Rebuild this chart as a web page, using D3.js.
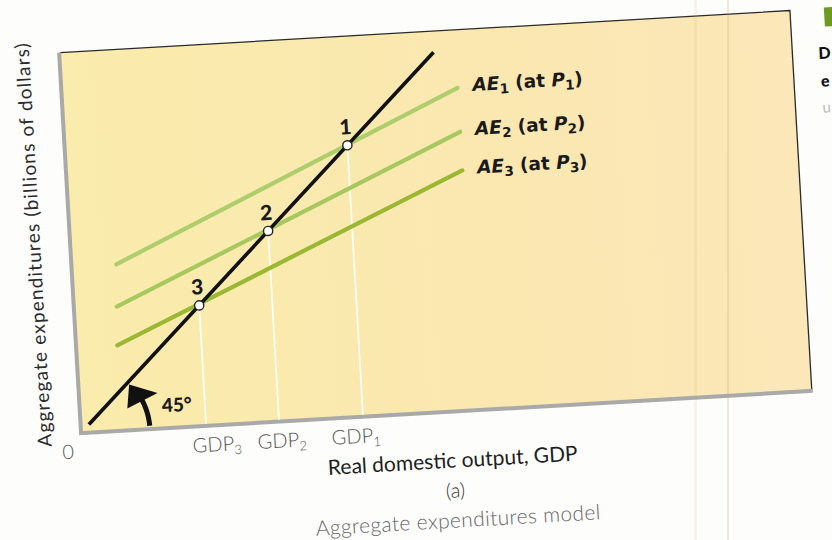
<!DOCTYPE html>
<html>
<head>
<meta charset="utf-8">
<script src="https://cdn.jsdelivr.net/npm/d3@7"></script>
<style>
  html, body { margin: 0; padding: 0; background: #fdfdfc; }
  svg { display: block; }
</style>
</head>
<body>
<svg id="chart" width="832" height="540"></svg>
<script>
// Aggregate expenditures model: 45-degree line and three AE schedules
const aeNames = ["1", "2", "3"];               // AE1, AE2, AE3 (at P1, P2, P3)
const aeStartX = [12, 11.5, 11];
const aeStartY = [47, 35, 24];
const aeEndX = [108, 108, 108];
const aeEndY = [91.5, 79, 68];
const aeColors = ["#aecd6c", "#a6c85e", "#9ab834"];

const pointLabels = ["1", "2", "3"];
const equilibriumGDP = [77, 54, 34];          // equilibrium output at points 1, 2, 3
const gdpTickSubs = ["1", "2", "3"];          // GDP1, GDP2, GDP3

const lineX = [2, 102];                       // 45-degree reference line (AE = GDP)

const svg = d3.select("#chart");
const W = 731, H = 380;
const tickNudge = [-8, 2, 10];                // typeset offsets of the GDP labels

// the printed page sits slightly tilted
const page = svg.append("g").attr("transform", "translate(82,432) rotate(-3.3)");

const x = d3.scaleLinear().domain([0, 200]).range([0, W]);
const y = d3.scaleLinear().domain([0, 108]).range([0, -H]);

// panel background
const defs = svg.append("defs");
const grad = defs.append("linearGradient").attr("id", "panelFill")
  .attr("x1", "0%").attr("x2", "100%").attr("y1", "0%").attr("y2", "0%");
grad.append("stop").attr("offset", "0%").attr("stop-color", "#faecac");
grad.append("stop").attr("offset", "55%").attr("stop-color", "#fae8b0");
grad.append("stop").attr("offset", "100%").attr("stop-color", "#fbe7b8");

page.append("rect")
  .attr("x", x(0)).attr("y", y(108))
  .attr("width", W).attr("height", H)
  .attr("fill", "url(#panelFill)");

// thin dark frame on top and right
page.append("path")
  .attr("d", `M${x(0)},${y(108)} L${x(200)},${y(108)} L${x(200)},${y(0)}`)
  .attr("fill", "none").attr("stroke", "#2a2a2a").attr("stroke-width", 1.3);

// axes drawn as grey rules
page.append("line")
  .attr("x1", x(0) - 1).attr("y1", y(108)).attr("x2", x(0) - 1).attr("y2", y(0) + 2)
  .attr("stroke", "#a9a9a9").attr("stroke-width", 4);
page.append("line")
  .attr("x1", x(0) - 3).attr("y1", y(0) + 1).attr("x2", x(200) + 1).attr("y2", y(0) + 1)
  .attr("stroke", "#a9a9a9").attr("stroke-width", 4);

// white drop lines from each equilibrium to the output axis
page.selectAll("line.drop").data(equilibriumGDP).join("line")
  .attr("class", "drop")
  .attr("x1", d => x(d)).attr("x2", d => x(d))
  .attr("y1", d => y(d)).attr("y2", y(0) - 1)
  .attr("stroke", "#fffdf4").attr("stroke-width", 1.8);

// AE schedules
page.selectAll("line.ae").data(aeNames).join("line")
  .attr("class", "ae")
  .attr("x1", (d, i) => x(aeStartX[i])).attr("y1", (d, i) => y(aeStartY[i]))
  .attr("x2", (d, i) => x(aeEndX[i])).attr("y2", (d, i) => y(aeEndY[i]))
  .attr("stroke", (d, i) => aeColors[i]).attr("stroke-width", 4.2)
  .attr("stroke-linecap", "round");

// 45-degree line
page.append("line")
  .attr("x1", x(lineX[0])).attr("y1", y(lineX[0]))
  .attr("x2", x(lineX[1])).attr("y2", y(lineX[1]))
  .attr("stroke", "#111").attr("stroke-width", 3.6);

// equilibrium points
page.selectAll("circle.eq").data(equilibriumGDP).join("circle")
  .attr("class", "eq")
  .attr("cx", d => x(d)).attr("cy", d => y(d)).attr("r", 4.6)
  .attr("fill", "#fff").attr("stroke", "#222").attr("stroke-width", 1.4);

const boldFont = "Lato, 'DejaVu Sans', sans-serif";
page.selectAll("text.eqlab").data(equilibriumGDP).join("text")
  .attr("class", "eqlab")
  .attr("x", d => x(d) - 1).attr("y", d => y(d) - 11)
  .attr("text-anchor", "middle")
  .attr("font-family", boldFont)
  .attr("font-weight", 900).attr("font-size", 21).attr("fill", "#1a1a1a")
  .text((d, i) => pointLabels[i]);

// AE labels
const labelFont = "'DejaVu Sans', sans-serif";
aeNames.forEach((n, i) => {
  const t = page.append("text")
    .attr("x", x(aeEndX[i]) + 15).attr("y", y(aeEndY[i]) + 4)
    .attr("font-family", labelFont).attr("font-weight", "bold")
    .attr("font-size", 18.5).attr("fill", "#1a1a1a");
  t.append("tspan").attr("font-style", "italic").text("AE");
  t.append("tspan").attr("font-size", 13.5).attr("dy", 4).text(n);
  t.append("tspan").attr("dy", -4).text(" (at ");
  t.append("tspan").attr("font-style", "italic").text("P");
  t.append("tspan").attr("font-size", 13.5).attr("dy", 4).text(n);
  t.append("tspan").attr("dy", -4).text(")");
});

// 45-degree angle marker
const r0 = 68;
const polar = (deg, r) => [x(0) + r * Math.cos(deg * Math.PI / 180), y(0) - r * Math.sin(deg * Math.PI / 180)];
const arcPts = d3.range(2, 27, 1).map(a => polar(a, r0));
page.append("path")
  .attr("d", d3.line()(arcPts))
  .attr("fill", "none").attr("stroke", "#111").attr("stroke-width", 5);
page.append("path")
  .attr("d", d3.line()([polar(42, r0 - 1), polar(24, r0 - 17), polar(24, r0 + 17)]) + "Z")
  .attr("fill", "#111");
page.append("text")
  .attr("x", x(22.2)).attr("y", y(0) - 15)
  .attr("font-family", boldFont).attr("font-weight", 900)
  .attr("font-size", 19).attr("fill", "#1a1a1a")
  .text("45°");

// output axis ticks
const textFont = "Lato, 'DejaVu Sans', sans-serif";
page.append("text")
  .attr("x", x(0) - 15).attr("y", y(0) + 26)
  .attr("text-anchor", "middle")
  .attr("font-family", textFont).attr("font-weight", 300)
  .attr("font-size", 20).attr("fill", "#5a5a5a").text("0");

page.selectAll("text.gdp").data(equilibriumGDP).join("text")
  .attr("class", "gdp")
  .attr("x", (d, i) => x(d) + tickNudge[i]).attr("y", y(0) + 27)
  .attr("text-anchor", "middle")
  .attr("font-family", textFont).attr("font-weight", 300)
  .attr("font-size", 20).attr("fill", "#555")
  .each(function (d, i) {
    const t = d3.select(this);
    t.append("tspan").text("GDP");
    t.append("tspan").attr("font-size", 13).attr("dy", 4).text(gdpTickSubs[i]);
  });

// axis titles and caption
page.append("text")
  .attr("x", x(100) + 3).attr("y", y(0) + 57)
  .attr("text-anchor", "middle")
  .attr("font-family", textFont).attr("font-weight", 400)
  .attr("font-size", 21).attr("fill", "#1e1e1e")
  .text("Real domestic output, GDP");

page.append("text")
  .attr("x", x(100) + 4).attr("y", y(0) + 87)
  .attr("text-anchor", "middle")
  .attr("font-family", textFont).attr("font-weight", 300)
  .attr("font-size", 20).attr("fill", "#333")
  .text("(a)");

page.append("text")
  .attr("x", x(100) + 5).attr("y", y(0) + 117)
  .attr("text-anchor", "middle")
  .attr("font-family", textFont).attr("font-weight", 300)
  .attr("font-size", 21).attr("letter-spacing", 0.35).attr("fill", "#666")
  .text("Aggregate expenditures model");

page.append("text")
  .attr("transform", `translate(${x(0) - 31},${y(54)}) rotate(-90)`)
  .attr("text-anchor", "middle")
  .attr("font-family", textFont).attr("font-weight", 400)
  .attr("font-size", 19).attr("letter-spacing", 1.2).attr("fill", "#2a2a2a")
  .text("Aggregate expenditures (billions of dollars)");

// start of the neighbouring text column
page.append("rect")
  .attr("x", 765).attr("y", -381).attr("width", 40).attr("height", 19)
  .attr("fill", "#6e9a22");
page.append("text").attr("x", 757).attr("y", -330)
  .attr("font-family", boldFont).attr("font-weight", 900)
  .attr("font-size", 16).attr("fill", "#111").text("D");
page.append("text").attr("x", 758).attr("y", -302)
  .attr("font-family", boldFont).attr("font-weight", 900)
  .attr("font-size", 16).attr("fill", "#111").text("e");
page.append("text").attr("x", 758).attr("y", -276)
  .attr("font-family", boldFont).attr("font-weight", 400)
  .attr("font-size", 15).attr("fill", "#bbb").text("u");

// page fold
svg.append("line").attr("x1", 728).attr("x2", 728).attr("y1", 0).attr("y2", 540)
  .attr("stroke", "#b89c6a").attr("stroke-opacity", 0.28).attr("stroke-width", 1.6);
svg.append("rect").attr("x", 694).attr("y", 0).attr("width", 3).attr("height", 540)
  .attr("fill", "#c9a26a").attr("opacity", 0.1);
</script>
</body>
</html>
